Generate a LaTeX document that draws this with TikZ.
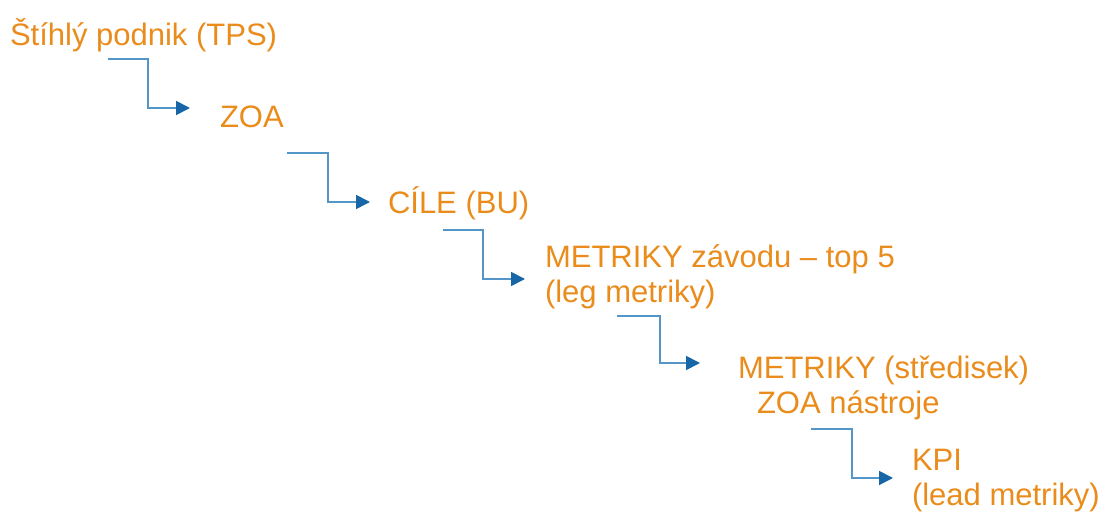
\documentclass[tikz,border=0pt]{standalone}
\usepackage{fontspec}
\setmainfont{Liberation Sans}
\usetikzlibrary{arrows.meta,calc}
\definecolor{txtorange}{RGB}{234,140,28}
\definecolor{lineblue}{RGB}{84,150,200}
\definecolor{tipblue}{RGB}{22,102,168}
\begin{document}
\begin{tikzpicture}[x=1pt,y=-1pt,
  lbl/.style={anchor=base west,inner sep=0pt,outer sep=0pt,text=txtorange,align=left,
    font=\fontsize{31}{35}\selectfont},
  conn/.style={draw=lineblue,line width=1.7pt,
    -{Triangle[length=14pt,width=14pt,color=tipblue]}}]
\useasboundingbox (0,0) rectangle (1103,513);
\node[lbl] (tps) at (10,46) {Štíhlý podnik (TPS)};
\node[lbl] (zoa) at (220,128) {ZOA};
\node[lbl] (cile) at (388,214) {CÍLE (BU)};
\node[lbl] (met1) at (545,302) {METRIKY závodu – top 5\\(leg metriky)};
\node[lbl] (met2) at (738,413) {METRIKY (středisek)\\\hspace*{19pt}ZOA nástroje};
\node[lbl] (kpi) at (912,505) {KPI\\(lead metriky)};
% connector coordinates
\coordinate (s1) at (108,59);   \coordinate (e1) at (190,108);
\coordinate (s2) at (287,153);  \coordinate (e2) at (370,202);
\coordinate (s3) at (443,230);  \coordinate (e3) at (525,279);
\coordinate (s4) at (617,316);  \coordinate (e4) at (700,363);
\coordinate (s5) at (811,429);  \coordinate (e5) at (893,478);
\draw[conn] (s1) -- ++(40,0) |- (e1);
\draw[conn] (s2) -- ++(41,0) |- (e2);
\draw[conn] (s3) -- ++(40,0) |- (e3);
\draw[conn] (s4) -- ++(43,0) |- (e4);
\draw[conn] (s5) -- ++(41,0) |- (e5);
\end{tikzpicture}
\end{document}
